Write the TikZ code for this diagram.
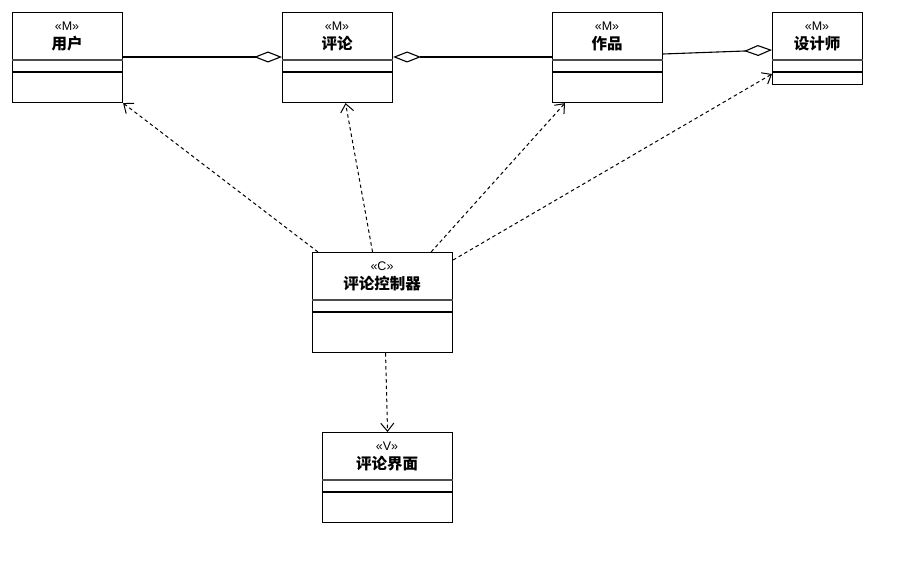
\documentclass[tikz,border=0pt]{standalone}
\usepackage{fontspec}
\setmainfont{Liberation Sans}
\newfontfamily\cjk{Noto Sans CJK SC}
\usetikzlibrary{arrows.meta}
\begin{document}
\begin{tikzpicture}[x=1pt,y=-1pt,
  umlbox/.style={draw=black, line width=1.1pt, fill=white, anchor=north west, inner sep=0pt},
  septhick/.style={draw=black!70, line width=2.2pt},
  septhin/.style={draw=black, line width=1.1pt},
  stereo/.style={font=\fontsize{12.5}{13}\selectfont, inner sep=0pt},
  cname/.style={font=\cjk\bfseries\fontsize{15.5}{16}\selectfont, inner sep=0pt},
  assoc/.style={draw=black, line width=1.1pt},
  dep/.style={draw=black, line width=1pt, dash pattern=on 3.5pt off 3pt, -{Straight Barb[length=8pt,width=13pt,line width=1pt]}},
  aggtip/.tip={Diamond[open,length=28pt,width=11pt,line width=1.1pt]}
]
\useasboundingbox (0,0) rectangle (912,572);

% boxes
\node[umlbox, minimum width=110pt, minimum height=90pt] (user) at (12,12) {};
\node[umlbox, minimum width=110pt, minimum height=90pt] (comment) at (282,12) {};
\node[umlbox, minimum width=110pt, minimum height=90pt] (work) at (552,12) {};
\node[umlbox, minimum width=90pt, minimum height=72pt] (designer) at (772,12) {};
\node[umlbox, minimum width=140pt, minimum height=100pt] (ctrl) at (312,252) {};
\node[umlbox, minimum width=130pt, minimum height=90pt] (view) at (322,432) {};

% compartments
\foreach \b in {user,comment,work,designer,ctrl,view}{
  \draw[septhick] ([yshift=-48pt]\b.north west) -- ([yshift=-48pt]\b.north east);
  \draw[septhin] ([yshift=-60pt]\b.north west) -- ([yshift=-60pt]\b.north east);
}

% texts
\node[stereo] (userS) at (67,26) {«M»};
\node[cname] (userN) at (67,44) {用户};
\node[stereo] (commentS) at (337,26) {«M»};
\node[cname] (commentN) at (337,44) {评论};
\node[stereo] (workS) at (607,26) {«M»};
\node[cname] (workN) at (607,44) {作品};
\node[stereo] (designerS) at (817,26) {«M»};
\node[cname] (designerN) at (817,44) {设计师};
\node[stereo] (ctrlS) at (382,266) {«C»};
\node[cname] (ctrlN) at (382,284) {评论控制器};
\node[stereo] (viewS) at (387,446) {«V»};
\node[cname] (viewN) at (387,464) {评论界面};

% associations / aggregations
\draw[assoc, -aggtip] ([yshift=-45pt]user.north east) -- ([yshift=-45pt]comment.north west);
\draw[assoc, aggtip-] ([yshift=-45pt]comment.north east) -- ([yshift=-45pt]work.north west);
\draw[assoc, -aggtip] ([yshift=-42pt]work.north east) -- ([yshift=-38pt]designer.north west);

% dependencies
\draw[dep] ([xshift=6pt]ctrl.north west) -- (user.south east);
\draw[dep] ([xshift=-10pt]ctrl.north) -- ([xshift=8pt]comment.south);
\draw[dep] ([xshift=-22pt]ctrl.north east) -- ([xshift=13pt]work.south west);
\draw[dep] ([yshift=-8pt]ctrl.north east) -- ([yshift=-62pt]designer.north west);
\draw[dep] ([xshift=3pt]ctrl.south) -- (view.north);
\end{tikzpicture}
\end{document}
